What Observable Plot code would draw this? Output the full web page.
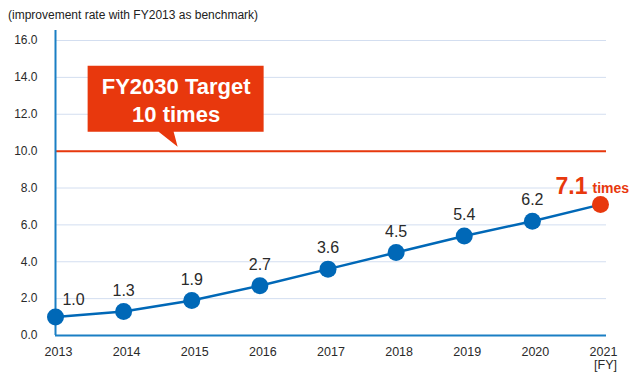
<!DOCTYPE html>
<html><head><meta charset="utf-8">
<script src="https://cdn.jsdelivr.net/npm/d3@7"></script>
<script src="https://cdn.jsdelivr.net/npm/@observablehq/plot@0.6"></script>
<style>
body{margin:0;background:#fff;font-family:"Liberation Sans",Arial,sans-serif;}
#sub{height:24px;box-sizing:border-box;padding:8px 0 0 8px;line-height:14px;font-size:12px;color:#222;white-space:nowrap;}
</style>
</head><body>
<div id="sub"></div>
<div id="chart"></div>
<script>
const subtitle = "(improvement rate with FY2013 as benchmark)";
const years = [2013, 2014, 2015, 2016, 2017, 2018, 2019, 2020, 2021];
const values = [1.0, 1.3, 1.9, 2.7, 3.6, 4.5, 5.4, 6.2, 7.1];
const yTicks = [0, 2, 4, 6, 8, 10, 12, 14, 16];
const targetValue = 10;
const targetLabel = ["FY2030 Target", "10 times"];
const calloutYear = 2014.8;
const latestUnit = "times";
const unitLabel = "[FY]";

document.getElementById("sub").textContent = subtitle;

const data = years.map((year, i) => ({year, value: values[i]}));
const first = data[0];
const middle = data.slice(1, -1);
const last = data[data.length - 1];

const BLUE = "#0068b7";
const AXIS = "#1a7fc4";
const RED = "#e8380d";
const GRID = "#d3def0";
const INK = "#2a2a2a";

const callout = [{year: calloutYear, value: targetValue}];

const calloutShape = Plot.dot(callout, {
  x: "year", y: "value",
  render(index, scales, values) {
    const g = d3.create("svg:g");
    for (const i of index) {
      const ax = values.x[i], ay = values.y[i];
      const left = ax - 90, right = ax + 86, top = ay - 85, bottom = ay - 19;
      g.append("path")
        .attr("d", `M${left},${top}H${right}V${bottom}H${ax - 4}L${ax},${ay - 4}L${ax - 19},${bottom}H${left}Z`)
        .attr("fill", RED);
    }
    return g.node();
  }
});

const plot = Plot.plot({
  width: 640,
  height: 358,
  marginLeft: 55,
  marginRight: 34,
  marginTop: 16,
  marginBottom: 47,
  style: {fontFamily: "'Liberation Sans', Arial, sans-serif", background: "#fff", overflow: "visible"},
  x: {domain: [years[0], years[years.length - 1]], range: [55, 600]},
  y: {domain: [yTicks[0], yTicks[yTicks.length - 1]]},
  marks: [
    Plot.ruleY(yTicks, {stroke: GRID, strokeWidth: 1}),
    Plot.ruleY([targetValue], {stroke: RED, strokeWidth: 2}),
    Plot.ruleY([yTicks[0]], {stroke: AXIS, strokeWidth: 2}),
    Plot.ruleX([years[0]], {stroke: AXIS, strokeWidth: 2, insetTop: -10}),
    Plot.axisY(yTicks, {tickFormat: d3.format(".1f"), tickSize: 0, tickPadding: 18, fontSize: 12, fill: INK, label: null}),
    Plot.axisX(years, {tickFormat: d => String(d), tickSize: 0, tickPadding: 12, fontSize: 12.5, fill: INK, dx: 3, label: null}),
    Plot.text([unitLabel], {frameAnchor: "bottom-right", dx: -1, dy: 25, textAnchor: "middle", fontSize: 12.5, fill: INK, lineAnchor: "top"}),
    calloutShape,
    Plot.text(callout, {x: "year", y: "value", text: () => targetLabel.join("\n"), dx: -2, dy: -52, lineAnchor: "middle", lineHeight: 1.27, fontSize: 22, fontWeight: "bold", fill: "#fff"}),
    Plot.line(data, {x: "year", y: "value", stroke: BLUE, strokeWidth: 2.5}),
    Plot.dot(data.slice(0, -1), {x: "year", y: "value", r: 8.5, fill: BLUE}),
    Plot.dot([last], {x: "year", y: "value", r: 8.5, fill: RED}),
    Plot.text([first], {x: "year", y: "value", text: d => d.value.toFixed(1), dx: 18, dy: -17, fontSize: 16, fill: INK}),
    Plot.text(middle, {x: "year", y: "value", text: d => d.value.toFixed(1), dy: -21, fontSize: 16, fill: INK}),
    Plot.text([last], {x: "year", y: "value", text: d => d.value.toFixed(1), textAnchor: "end", lineAnchor: "bottom", dx: -13, dy: -11, fontSize: 23, fontWeight: "bold", fill: RED}),
    Plot.text([last], {x: "year", y: "value", text: () => latestUnit, textAnchor: "start", lineAnchor: "bottom", dx: -8, dy: -12, fontSize: 14, fontWeight: "bold", fill: RED})
  ]
});
document.getElementById("chart").appendChild(plot);
</script>
</body></html>
